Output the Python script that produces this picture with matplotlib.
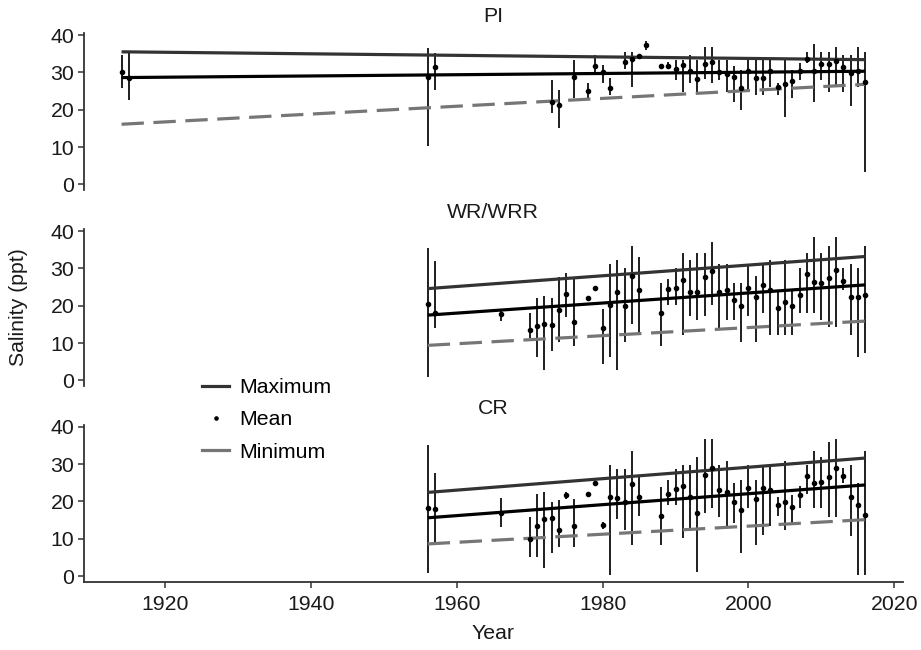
import numpy as np
import matplotlib
matplotlib.use('Agg')
import matplotlib.pyplot as plt
from matplotlib.lines import Line2D

plt.rcParams['font.family'] = ['Liberation Sans', 'DejaVu Sans']

# ---- PI ----
pi_years = [1914, 1915, 1956, 1957, 1973, 1974, 1976, 1978, 1979, 1980, 1981, 1983, 1984, 1985,
            1986, 1988, 1989, 1990, 1991, 1992, 1993, 1994, 1995, 1996, 1997, 1998, 1999, 2000,
            2001, 2002, 2003, 2004, 2005, 2006, 2007, 2008, 2009, 2010, 2011, 2012, 2013, 2014,
            2015, 2016]
pi_mean = [30.0, 28.5, 28.8, 31.4, 22.0, 21.2, 28.8, 24.9, 31.8, 30.0, 25.8, 32.9, 33.5, 34.5,
           37.3, 31.8, 31.8, 30.8, 32.1, 30.3, 28.2, 32.2, 32.8, 30.2, 29.5, 28.8, 25.9, 30.4,
           28.4, 28.4, 30.4, 26.2, 26.9, 27.8, 30.3, 33.5, 30.4, 32.2, 32.3, 33.0, 31.3, 29.9,
           30.3, 27.4]
pi_hi = [34.7, 35.1, 36.5, 35.1, 28.0, 25.3, 33.3, 27.1, 34.7, 32.0, 28.6, 35.5, 35.5, 34.5,
         38.4, 31.8, 32.7, 33.3, 33.3, 34.7, 33.3, 36.7, 36.7, 33.3, 33.3, 31.7, 30.6, 33.3,
         33.3, 33.3, 33.3, 27.2, 33.3, 30.6, 32.6, 35.5, 37.6, 35.5, 35.5, 36.7, 34.7, 34.7,
         36.7, 35.5]
pi_lo = [25.7, 22.6, 10.3, 25.3, 19.0, 15.0, 23.1, 22.6, 29.8, 27.1, 23.9, 30.8, 26.0, 34.5,
         36.0, 31.8, 30.9, 28.0, 24.8, 27.1, 24.8, 28.2, 27.1, 28.0, 24.8, 22.1, 19.9, 25.3,
         23.9, 23.9, 26.2, 23.9, 18.1, 23.1, 28.0, 32.4, 22.1, 28.0, 24.8, 26.6, 24.8, 21.0,
         26.2, 3.4]

# ---- WR/WRR ----
wr_years = [1956, 1957, 1966, 1970, 1971, 1972, 1973, 1974, 1975, 1976, 1978, 1979, 1980, 1981,
            1982, 1983, 1984, 1985, 1988, 1989, 1990, 1991, 1992, 1993, 1994, 1995, 1996, 1997,
            1998, 1999, 2000, 2001, 2002, 2003, 2004, 2005, 2006, 2007, 2008, 2009, 2010, 2011,
            2012, 2013, 2014, 2015, 2016]
wr_mean = [20.4, 18.0, 17.7, 13.6, 14.5, 15.1, 14.8, 18.8, 23.1, 15.6, 22.2, 24.7, 14.1, 20.1,
           23.7, 19.9, 27.9, 24.1, 18.0, 24.4, 24.7, 26.9, 23.8, 23.8, 27.7, 29.2, 23.8, 24.2,
           21.5, 19.9, 24.7, 22.4, 25.5, 24.2, 19.4, 21.1, 19.9, 22.9, 28.4, 26.5, 26.0, 27.4,
           29.7, 26.6, 22.4, 22.3, 22.9]
wr_hi = [35.4, 32.0, 18.9, 18.1, 22.2, 22.7, 22.2, 27.7, 28.8, 27.7, 22.2, 24.7, 19.2, 31.1,
         32.2, 30.1, 36.1, 33.1, 26.1, 27.2, 30.1, 34.2, 32.2, 34.2, 34.2, 37.2, 31.1, 31.1,
         26.1, 26.1, 30.6, 28.1, 31.1, 32.2, 23.8, 32.2, 24.0, 30.1, 34.2, 38.3, 34.2, 36.1,
         38.3, 30.1, 31.1, 30.1, 36.1]
wr_lo = [0.9, 14.1, 15.9, 11.3, 6.3, 2.9, 7.9, 10.2, 17.0, 9.3, 22.2, 24.7, 4.4, 6.3,
         2.9, 10.2, 15.2, 12.4, 9.3, 20.1, 20.1, 12.2, 17.2, 16.3, 17.2, 20.1, 14.1, 16.3,
         16.3, 10.2, 17.2, 10.2, 18.1, 12.2, 12.2, 12.2, 12.2, 18.1, 18.1, 18.1, 16.3, 14.3,
         14.3, 24.2, 12.2, 6.3, 7.3]

# ---- CR ----
cr_years = wr_years
cr_mean = [18.2, 17.9, 16.8, 10.0, 13.4, 15.2, 15.6, 12.2, 21.7, 13.4, 21.9, 24.9, 13.6, 21.2,
           21.0, 19.7, 24.6, 21.1, 16.0, 22.0, 23.3, 24.0, 21.1, 16.8, 27.0, 28.9, 23.1, 22.6,
           19.7, 17.7, 23.6, 20.7, 23.6, 23.1, 19.1, 19.8, 18.4, 21.7, 26.7, 25.0, 25.1, 26.4,
           28.9, 26.8, 21.3, 19.1, 16.3]
cr_hi = [35.0, 27.7, 20.9, 15.9, 21.9, 22.4, 19.9, 20.4, 22.4, 20.6, 21.9, 24.9, 14.6, 29.8,
         28.7, 28.7, 33.6, 26.5, 23.8, 25.8, 28.6, 29.8, 29.8, 31.9, 36.7, 36.7, 29.8, 30.7,
         24.9, 25.8, 29.8, 25.8, 29.8, 29.8, 21.3, 30.7, 21.7, 24.2, 29.8, 33.6, 31.9, 35.8,
         36.7, 28.9, 29.8, 24.9, 33.6]
cr_lo = [0.9, 8.6, 13.2, 5.2, 5.2, 2.2, 6.1, 7.9, 20.6, 7.9, 21.9, 24.9, 12.5, 0.3,
         15.2, 12.2, 8.3, 16.1, 8.3, 19.1, 19.1, 10.1, 12.3, 1.2, 17.0, 18.2, 15.9, 13.2,
         14.1, 6.3, 18.2, 8.3, 11.0, 13.4, 16.1, 12.3, 14.3, 18.2, 22.0, 18.2, 18.2, 15.9,
         15.9, 24.9, 10.7, 0.3, 0.3]

# fitted trend lines, read at first and last year
pi_fit_years = [1914, 2016]
pi_fit_max = [35.5, 33.4]
pi_fit_mean = [28.6, 30.3]
pi_fit_min = [16.1, 26.8]
wr_fit_years = [1956, 2016]
wr_fit_max = [24.6, 33.2]
wr_fit_mean = [17.5, 25.6]
wr_fit_min = [9.4, 15.9]
cr_fit_years = [1956, 2016]
cr_fit_max = [22.4, 31.6]
cr_fit_mean = [15.6, 24.4]
cr_fit_min = [8.6, 15.1]

panels = [
    ('PI', pi_years, pi_mean, pi_lo, pi_hi, pi_fit_years, pi_fit_max, pi_fit_mean, pi_fit_min),
    ('WR/WRR', wr_years, wr_mean, wr_lo, wr_hi, wr_fit_years, wr_fit_max, wr_fit_mean, wr_fit_min),
    ('CR', cr_years, cr_mean, cr_lo, cr_hi, cr_fit_years, cr_fit_max, cr_fit_mean, cr_fit_min),
]

fs = 15.3
max_col = '#333333'
min_col = '#767676'
err_col = '#1e1e1e'

fig = plt.figure(figsize=(9.21, 6.5), dpi=100)
bottoms = [0.7072, 0.4055, 0.1046]
h = 0.2418

for i, (name, yrs, mn, lo, hi, fy, fmax, fmean, fmin) in enumerate(panels):
    ax = fig.add_axes([0.0912, bottoms[i], 0.8889, h])
    yrs = np.array(yrs)
    ax.vlines(yrs, lo, hi, color=err_col, lw=1.4, zorder=2)
    ax.plot(fy, fmax, color=max_col, lw=2.3, zorder=3, solid_capstyle='butt')
    ax.plot(fy, fmean, color='black', lw=2.3, zorder=3, solid_capstyle='butt')
    ax.plot(fy, fmin, color=min_col, lw=2.3, zorder=3, dashes=(7, 3), dash_capstyle='butt')
    ax.plot(yrs, mn, 'o', color='black', ms=3.0, zorder=4)
    ax.set_xlim(1908.85, 2021.15)
    ax.set_ylim(-1.6, 40.5)
    ax.set_yticks([0, 10, 20, 30, 40])
    for s in ['top', 'right']:
        ax.spines[s].set_visible(False)
    ax.spines['left'].set_color('#333333')
    ax.spines['left'].set_linewidth(1.3)
    ax.tick_params(axis='y', labelsize=fs, length=4, width=1.1, color='#333333',
                   labelcolor='#1a1a1a', pad=3)
    ax.set_title(name, fontsize=fs, pad=8, color='#1a1a1a')
    if i < 2:
        ax.spines['bottom'].set_visible(False)
        ax.set_xticks([])
    else:
        ax.spines['bottom'].set_color('#333333')
        ax.spines['bottom'].set_linewidth(1.3)
        ax.set_xticks([1920, 1940, 1960, 1980, 2000, 2020])
        ax.tick_params(axis='x', labelsize=fs, length=4, width=1.1, color='#333333',
                       labelcolor='#1a1a1a', pad=5)

fig.text(0.535, 0.026, 'Year', fontsize=fs, ha='center', va='center', color='#1a1a1a')
fig.text(0.02, 0.527, 'Salinity (ppt)', fontsize=fs, rotation=90, ha='center', va='center',
         color='#1a1a1a')

handles = [Line2D([], [], color=max_col, lw=2.3),
           Line2D([], [], color='black', marker='o', ms=2.3, lw=0),
           Line2D([], [], color=min_col, lw=2.3)]
fig.legend(handles, ['Maximum', 'Mean', 'Minimum'], loc='upper left',
           bbox_to_anchor=(0.219, 0.418), frameon=False, fontsize=fs,
           handlelength=1.3, handletextpad=0.45, labelspacing=0.62,
           borderpad=0, borderaxespad=0)

fig.savefig('out.png', dpi=100)
